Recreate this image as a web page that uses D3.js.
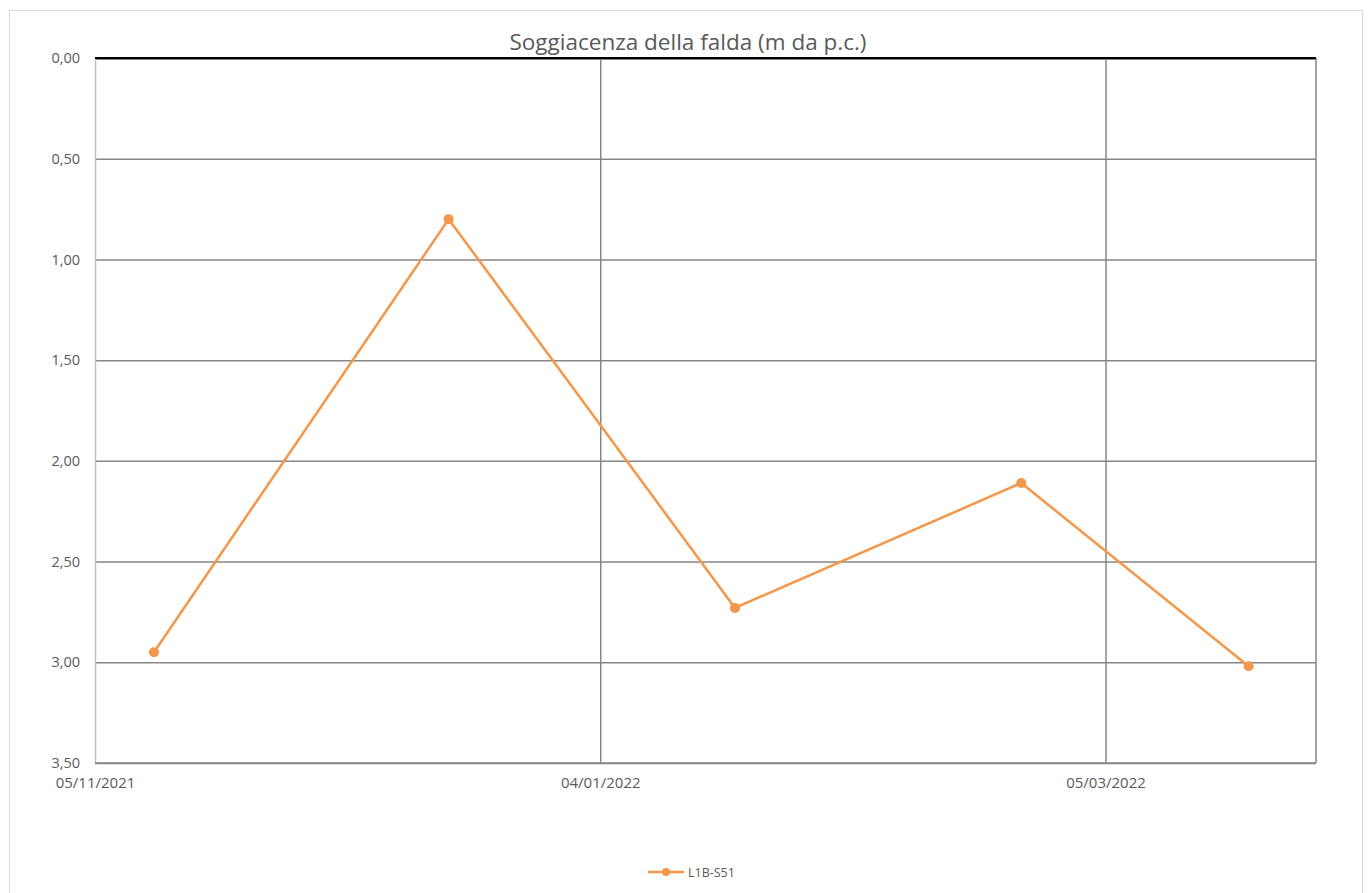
<!DOCTYPE html>
<html><head><meta charset="utf-8">
<script src="https://cdn.jsdelivr.net/npm/d3@7"></script>
<style>
body{margin:0;background:#fff;}
text{font-family:"Open Sans","Noto Sans",sans-serif;fill:#595959;}
</style></head>
<body><svg id="c" width="1372" height="893"></svg>
<script>
const dates = ["2021-11-12","2021-12-17","2022-01-20","2022-02-23","2022-03-22"];
const values = [2.95, 0.80, 2.73, 2.11, 3.02];
const seriesName = "L1B-S51";
const title = "Soggiacenza della falda (m da p.c.)";
const xTickDates = ["2021-11-05","2022-01-04","2022-03-05"];
const yTicks = [0,0.5,1,1.5,2,2.5,3,3.5];

const parse = d3.utcParse("%Y-%m-%d");
const fmtDate = d3.utcFormat("%d/%m/%Y");
const fmtNum = v => v.toFixed(2).replace(".", ",");

const svg = d3.select("#c");
svg.append("rect").attr("x",9.5).attr("y",10.5).attr("width",1353).attr("height",890)
  .attr("fill","#fff").attr("stroke","#d9d9d9");

const x = d3.scaleUtc().domain([parse("2021-11-05"), parse("2022-03-30")]).range([95,1316]);
const y = d3.scaleLinear().domain([0,3.5]).range([58,763]);

// horizontal grid
const yAxis = d3.axisLeft(y).tickValues(yTicks).tickFormat(fmtNum).tickSize(-(1316-95)).tickPadding(15);
const gy = svg.append("g").attr("transform","translate(95,0)").call(yAxis);
gy.select(".domain").remove();
gy.selectAll(".tick line").attr("stroke","#868686").attr("stroke-width",1.5);
gy.selectAll(".tick text").style("font-size","14.5px").attr("fill","#595959");
gy.selectAll(".tick").filter(d=>d===0).select("line").attr("stroke","#000").attr("stroke-width",2);

// vertical grid + x labels
const xAxis = d3.axisBottom(x).tickValues(xTickDates.map(parse)).tickFormat(fmtDate).tickSize(-(763-58)).tickPadding(14);
const gx = svg.append("g").attr("transform","translate(0,763)").call(xAxis);
gx.select(".domain").remove();
gx.selectAll(".tick line").attr("stroke","#868686").attr("stroke-width",1.5);
gx.selectAll(".tick").filter((d,i)=>i===0).select("line").attr("stroke","#bfbfbf");
gx.selectAll(".tick text").style("font-size","15px").attr("fill","#595959");
// right border
svg.append("line").attr("x1",1316).attr("x2",1316).attr("y1",58).attr("y2",763).attr("stroke","#868686").attr("stroke-width",1.5);
// bottom axis
svg.append("line").attr("x1",95).attr("x2",1316).attr("y1",763).attr("y2",763).attr("stroke","#868686").attr("stroke-width",1.5);
// top black
svg.append("line").attr("x1",95).attr("x2",1316).attr("y1",58).attr("y2",58).attr("stroke","#000").attr("stroke-width",2);

const data = dates.map((d,i)=>({d:parse(d), v:values[i]}));
const col = "#F79646";
svg.append("path").datum(data).attr("fill","none").attr("stroke",col).attr("stroke-width",2.5)
  .attr("stroke-linejoin","round").attr("d", d3.line().x(d=>x(d.d)).y(d=>y(d.v)));
svg.selectAll("circle.pt").data(data).enter().append("circle").attr("class","pt")
  .attr("cx",d=>x(d.d)).attr("cy",d=>y(d.v)).attr("r",5).attr("fill",col);

svg.append("text").attr("x",688).attr("y",50).attr("text-anchor","middle").style("font-size","22.5px").text(title);

// legend
const lg = svg.append("g");
lg.append("line").attr("x1",648).attr("x2",684).attr("y1",872).attr("y2",872).attr("stroke",col).attr("stroke-width",2.5);
lg.append("circle").attr("cx",666).attr("cy",872).attr("r",4).attr("fill",col);
lg.append("text").attr("x",688).attr("y",876.5).style("font-size","12.5px").text(seriesName);
</script></body></html>
